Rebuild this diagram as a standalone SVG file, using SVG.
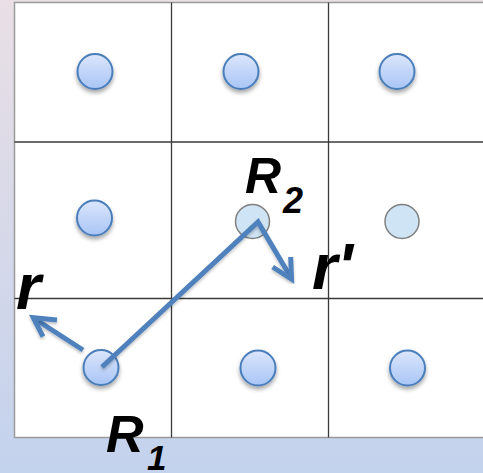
<svg xmlns="http://www.w3.org/2000/svg" width="483" height="473" viewBox="0 0 483 473">
<defs>
<linearGradient id="bg" x1="0" y1="0" x2="0" y2="1">
<stop offset="0" stop-color="#e9dfe5"/>
<stop offset="1" stop-color="#c3d2ed"/>
</linearGradient>
<linearGradient id="ball" x1="0" y1="0" x2="0" y2="1">
<stop offset="0" stop-color="#dbe6fb"/>
<stop offset="1" stop-color="#a9c5f6"/>
</linearGradient>
<filter id="sh" x="-50%" y="-50%" width="200%" height="200%">
<feDropShadow dx="0" dy="3" stdDeviation="2" flood-color="#000" flood-opacity="0.35"/>
</filter>
<filter id="lsh" x="-20%" y="-20%" width="140%" height="140%">
<feDropShadow dx="0" dy="2" stdDeviation="1.5" flood-color="#000" flood-opacity="0.25"/>
</filter>
</defs>
<style>
.grid{stroke:#3a3a3a;stroke-width:1.3;fill:none}
.ball{fill:url(#ball);stroke:#4a7ebb;stroke-width:2;filter:url(#sh)}
.ghost{fill:#cfe4f4;stroke:#808080;stroke-width:1.5}
.vec{fill:none;stroke:#4f81bd;stroke-width:5;stroke-linejoin:miter;stroke-linecap:butt;filter:url(#lsh)}
.lbl{font-family:"Liberation Sans",Arial,sans-serif;font-weight:bold;font-style:italic;fill:#000}
</style>
<rect x="0" y="0" width="483" height="473" fill="url(#bg)"/>
<rect x="14.5" y="2.5" width="480" height="435" fill="#fff" stroke="#9a9a9a" stroke-width="1.5"/>
<g id="grid" class="grid">
<line x1="171.5" y1="2.5" x2="171.5" y2="437.5"/>
<line x1="328.5" y1="2.5" x2="328.5" y2="437.5"/>
<line x1="14.5" y1="142" x2="483" y2="142"/>
<line x1="14.5" y1="298.5" x2="483" y2="298.5"/>
</g>
<g id="n11"><circle class="ball" cx="95" cy="71.5" r="17.5"/></g>
<g id="n12"><circle class="ball" cx="241" cy="71.5" r="17.5"/></g>
<g id="n13"><circle class="ball" cx="397" cy="71.5" r="17.5"/></g>
<g id="n21"><circle class="ball" cx="94.5" cy="218" r="17.5"/></g>
<g id="n22"><circle class="ghost" cx="252.5" cy="221.5" r="17"/></g>
<g id="n23"><circle class="ghost" cx="402" cy="221.5" r="17"/></g>
<g id="n31"><circle class="ball" cx="101" cy="367.5" r="17.5"/></g>
<g id="n32"><circle class="ball" cx="258" cy="368" r="17.5"/></g>
<g id="n33"><circle class="ball" cx="407.5" cy="368" r="17.5"/></g>
<g id="connectors">
<polyline class="vec" points="102,367 258,222 290,276"/>
<polyline class="vec" points="272.7,267 291.5,279 290.7,257"/>
<line class="vec" x1="83" y1="350" x2="35" y2="319"/>
<polyline class="vec" points="43,336.7 33.3,317.7 57,320"/>
</g>
<g id="labels">
<text class="lbl" x="245" y="193" font-size="50">R</text>
<text class="lbl" x="283" y="213" font-size="36">2</text>
<text class="lbl" x="312" y="289" font-size="65">r'</text>
<text class="lbl" x="16" y="309" font-size="64">r</text>
<text class="lbl" x="106" y="452" font-size="52">R</text>
<text class="lbl" x="147" y="470" font-size="35">1</text>
</g>
</svg>
